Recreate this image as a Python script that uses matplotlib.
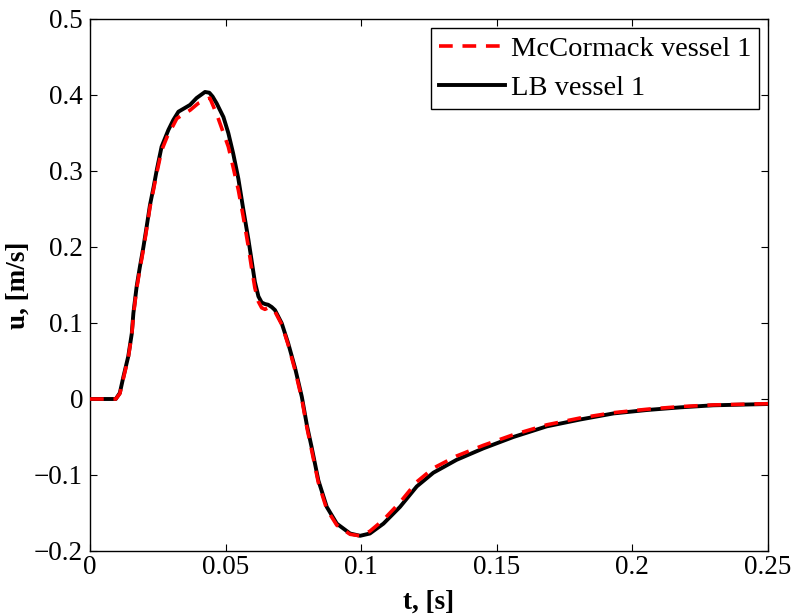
import matplotlib.pyplot as plt

# LB vessel 1 (black solid)
t_lb = [0, 0.0095, 0.0110, 0.0123, 0.0141, 0.0154, 0.0160, 0.0172, 0.0184, 0.0197,
        0.0209, 0.0221, 0.0234, 0.0246, 0.0264, 0.0289, 0.0307, 0.0326, 0.0350, 0.0369,
        0.0393, 0.0424, 0.0440, 0.0452, 0.0467, 0.0492, 0.0510, 0.0528, 0.0547, 0.0565,
        0.0584, 0.0596, 0.0608, 0.0621, 0.0633, 0.0645, 0.0657, 0.0670, 0.0682, 0.0707,
        0.0731, 0.0756, 0.0781, 0.0800, 0.0817, 0.0842, 0.0873, 0.0910, 0.0959, 0.0996,
        0.1032, 0.1082, 0.1143, 0.1205, 0.1266, 0.1352, 0.1450, 0.1561, 0.1684, 0.1807,
        0.1930, 0.2053, 0.2176, 0.2298, 0.25]
u_lb = [0, 0, 0.008, 0.029, 0.056, 0.086, 0.113, 0.148, 0.174, 0.200,
        0.227, 0.255, 0.278, 0.301, 0.332, 0.354, 0.367, 0.378, 0.383, 0.387,
        0.396, 0.404, 0.403, 0.398, 0.389, 0.371, 0.350, 0.323, 0.290, 0.250,
        0.210, 0.182, 0.154, 0.135, 0.127, 0.125, 0.124, 0.121, 0.117, 0.0996,
        0.073, 0.041, 0.003, -0.035, -0.063, -0.107, -0.142, -0.164, -0.177, -0.180,
        -0.177, -0.164, -0.142, -0.115, -0.097, -0.080, -0.065, -0.050, -0.036, -0.027,
        -0.019, -0.0145, -0.011, -0.0083, -0.0066]

# McCormack vessel 1 (red dashed)
t_mc = [0, 0.0095, 0.0110, 0.0123, 0.0141, 0.0154, 0.0160, 0.0172, 0.0184, 0.0197,
        0.0209, 0.0221, 0.0234, 0.0246, 0.0264, 0.0289, 0.0307, 0.0320, 0.0350, 0.0369,
        0.0399, 0.0424, 0.0442, 0.0455, 0.0470, 0.0492, 0.0510, 0.0522, 0.0547, 0.0565,
        0.0584, 0.0596, 0.0608, 0.0621, 0.0633, 0.0645, 0.0657, 0.0670, 0.0682, 0.0707,
        0.0731, 0.0756, 0.0781, 0.0800, 0.0817, 0.0842, 0.0873, 0.0910, 0.0959, 0.0996,
        0.1032, 0.1082, 0.1143, 0.1205, 0.1266, 0.1352, 0.1450, 0.1561, 0.1684, 0.1807,
        0.1930, 0.2053, 0.2176, 0.2298, 0.25]
u_mc = [0, 0, 0.007, 0.027, 0.054, 0.084, 0.110, 0.145, 0.171, 0.197,
        0.224, 0.252, 0.275, 0.297, 0.327, 0.349, 0.360, 0.369, 0.376, 0.380,
        0.389, 0.393, 0.396, 0.385, 0.372, 0.350, 0.332, 0.314, 0.275, 0.240,
        0.200, 0.172, 0.146, 0.128, 0.120, 0.118, 0.120, 0.119, 0.115, 0.098,
        0.071, 0.038, 0.000, -0.038, -0.067, -0.110, -0.145, -0.166, -0.178, -0.180,
        -0.174, -0.159, -0.136, -0.109, -0.091, -0.075, -0.061, -0.047, -0.034, -0.025,
        -0.018, -0.0135, -0.010, -0.0078, -0.0062]

x_ticks = [0, 0.05, 0.1, 0.15, 0.2, 0.25]
x_tick_labels = ['0', '0.05', '0.1', '0.15', '0.2', '0.25']
y_ticks = [-0.2, -0.1, 0, 0.1, 0.2, 0.3, 0.4, 0.5]
y_tick_labels = ['\u22120.2', '\u22120.1', '0', '0.1', '0.2', '0.3', '0.4', '0.5']

plt.rcParams['font.family'] = ['Liberation Serif', 'DejaVu Serif']
fs = 19.5

fig = plt.figure(figsize=(7.93, 6.16), dpi=100)
ax = fig.add_axes([90 / 793, 1 - 551 / 616, 678 / 793, 532 / 616])

ax.plot(t_mc, u_mc, color='red', linestyle=(0, (3.8, 2.7)), lw=2.6,
        label='McCormack vessel 1', zorder=3)
ax.plot(t_lb, u_lb, color='black', lw=2.8, label='LB vessel 1', zorder=2)

ax.set_xlim(0, 0.25)
ax.set_ylim(-0.2, 0.5)
ax.set_xticks(x_ticks)
ax.set_xticklabels(x_tick_labels)
ax.set_yticks(y_ticks)
ax.set_yticklabels(y_tick_labels)
ax.tick_params(direction='in', length=5, width=0.8, top=True, right=True,
               labelsize=fs)
ax.tick_params(axis='y', pad=5)
ax.tick_params(axis='x', pad=3)
for sp in ax.spines.values():
    sp.set_linewidth(1.0)

ax.set_xlabel('t, [s]', fontsize=fs, fontweight='bold', labelpad=7)
ax.set_ylabel('u, [m/s]', fontsize=fs, fontweight='bold', labelpad=2)

leg = ax.legend(loc='upper right', fontsize=20.5, frameon=True, fancybox=False,
                edgecolor='black', framealpha=1, handlelength=2.3,
                borderaxespad=0.3, borderpad=0.3, labelspacing=0.45,
                handletextpad=0.2)
leg.get_frame().set_linewidth(1.0)

fig.savefig('out.png', dpi=100)
